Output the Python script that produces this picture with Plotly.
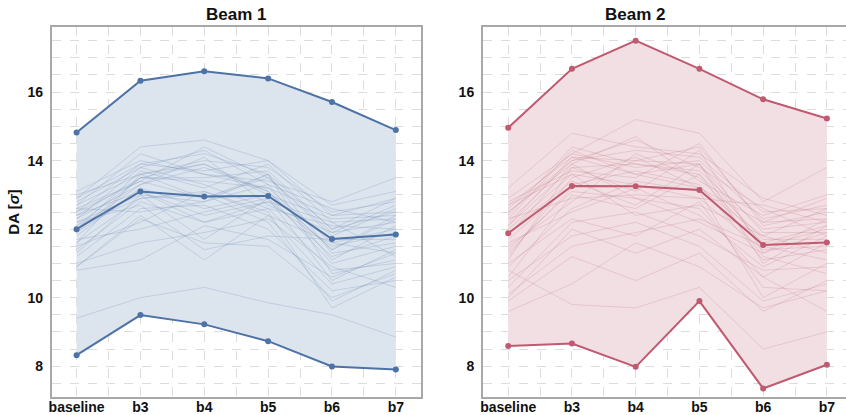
import plotly.graph_objects as go

categories = ["baseline", "b3", "b4", "b5", "b6", "b7"]
y_ticks = [8, 10, 12, 14, 16]

b1_max = [14.82, 16.33, 16.61, 16.40, 15.71, 14.89]
b1_mean = [12.00, 13.10, 12.95, 12.97, 11.71, 11.84]
b1_min = [8.32, 9.49, 9.22, 8.73, 7.99, 7.90]

b2_max = [14.96, 16.68, 17.50, 16.68, 15.79, 15.23]
b2_mean = [11.88, 13.26, 13.25, 13.14, 11.54, 11.61]
b2_min = [8.59, 8.66, 7.98, 9.90, 7.35, 8.04]

b1_seeds = [
    [12.9, 14.4, 14.6, 14.0, 12.4, 12.9],
    [12.5, 13.9, 14.2, 13.6, 12.0, 12.5],
    [12.1, 13.5, 13.4, 13.2, 11.6, 12.0],
    [11.8, 13.2, 12.6, 13.0, 11.0, 11.5],
    [12.7, 13.6, 14.0, 13.8, 12.5, 12.8],
    [11.4, 12.8, 12.2, 12.6, 10.8, 11.0],
    [13.1, 14.0, 13.6, 13.4, 12.8, 13.5],
    [12.3, 13.3, 13.8, 13.1, 11.4, 12.3],
    [10.9, 12.4, 11.1, 12.4, 10.4, 10.9],
    [12.0, 13.7, 13.2, 13.9, 12.2, 11.2],
    [11.6, 12.9, 13.0, 12.2, 9.9, 10.8],
    [9.4, 10.0, 10.3, 9.85, 9.5, 8.85],
    [12.6, 13.4, 12.9, 13.5, 11.8, 12.6],
    [12.2, 13.0, 11.7, 12.9, 11.2, 11.8],
    [11.2, 12.6, 12.7, 12.0, 10.2, 10.5],
    [12.8, 13.8, 14.3, 13.3, 12.6, 12.2],
    [10.8, 11.1, 12.1, 11.7, 10.6, 11.3],
    [12.4, 13.5, 13.5, 13.7, 12.0, 12.9],
    [11.9, 13.1, 12.4, 12.8, 11.5, 11.9],
    [13.0, 13.6, 13.9, 13.0, 12.3, 12.4],
    [11.5, 12.2, 13.1, 12.5, 9.7, 10.6],
    [12.0, 13.3, 14.1, 12.7, 11.9, 12.7],
    [12.6, 12.5, 12.8, 13.6, 11.3, 11.6],
    [11.0, 11.6, 11.9, 12.3, 10.9, 10.3],
    [12.3, 13.8, 13.3, 12.6, 12.1, 12.0],
    [11.7, 12.0, 12.5, 12.9, 10.5, 11.4],
    [12.9, 13.9, 13.7, 14.0, 12.7, 13.1],
    [12.2, 12.7, 11.4, 11.8, 11.7, 11.7],
    [11.3, 13.0, 12.8, 13.3, 11.1, 12.1],
    [12.5, 13.4, 14.4, 13.5, 11.9, 12.2],
    [10.9, 12.3, 11.6, 11.5, 10.0, 10.7],
    [12.7, 14.2, 13.6, 13.2, 12.4, 12.5],
    [12.1, 12.9, 13.1, 12.4, 11.6, 11.3],
    [11.6, 13.6, 12.9, 13.6, 10.7, 11.1],
    [12.4, 13.1, 12.2, 12.8, 12.2, 12.3],
    [11.9, 13.5, 13.9, 13.1, 11.4, 12.4],
]

b2_seeds = [
    [12.9, 14.2, 15.2, 14.8, 12.8, 13.8],
    [12.5, 14.0, 14.3, 14.1, 12.5, 12.6],
    [12.1, 13.8, 13.9, 13.7, 12.0, 12.2],
    [11.2, 13.5, 14.1, 13.2, 11.8, 11.3],
    [13.2, 14.8, 14.4, 14.2, 12.9, 12.4],
    [10.6, 13.0, 12.6, 13.6, 11.2, 10.7],
    [12.3, 14.3, 13.6, 13.9, 11.9, 11.9],
    [9.6, 10.4, 11.6, 10.9, 9.7, 10.2],
    [11.8, 13.9, 12.9, 12.6, 10.6, 11.6],
    [10.1, 11.5, 11.9, 12.3, 11.5, 12.0],
    [12.7, 14.1, 14.0, 14.4, 12.2, 12.9],
    [10.8, 9.8, 9.7, 10.3, 8.5, 9.0],
    [12.0, 13.6, 13.3, 12.9, 11.4, 11.5],
    [11.5, 12.8, 14.2, 13.5, 11.6, 12.1],
    [10.3, 12.2, 12.5, 11.8, 10.8, 10.9],
    [12.6, 14.2, 13.8, 14.0, 12.3, 12.7],
    [9.9, 11.2, 10.5, 11.3, 9.6, 10.5],
    [11.7, 13.3, 13.7, 13.3, 11.1, 11.4],
    [12.2, 14.0, 14.6, 13.8, 12.6, 11.8],
    [11.0, 12.3, 11.8, 12.8, 10.3, 10.2],
    [12.8, 13.7, 13.5, 14.5, 12.1, 12.5],
    [11.4, 13.1, 12.9, 12.2, 11.3, 12.3],
    [10.9, 12.6, 13.4, 13.1, 10.0, 11.0],
    [12.4, 14.4, 13.9, 13.6, 11.7, 11.7],
    [11.9, 13.4, 12.7, 13.9, 11.0, 12.1],
    [10.5, 11.8, 12.2, 11.5, 9.9, 10.4],
    [12.5, 13.9, 14.7, 13.4, 12.4, 13.0],
    [11.6, 12.5, 13.2, 12.4, 10.9, 11.8],
    [10.0, 12.0, 11.3, 12.0, 10.6, 9.6],
    [12.1, 14.1, 13.6, 13.2, 12.2, 12.3],
    [11.3, 13.2, 14.0, 13.9, 11.5, 11.1],
    [12.7, 13.6, 12.4, 12.7, 11.8, 12.6],
    [11.1, 13.8, 13.1, 14.3, 11.3, 11.9],
    [12.3, 12.9, 13.0, 12.9, 12.7, 12.2],
]

x = list(range(len(categories)))

fig = go.Figure()

beams = [
    dict(seeds=b1_seeds, mx=b1_max, mn=b1_min, mean=b1_mean, xa="x", ya="y",
         line="#4d72a6", fill="#dce4ee", thin="rgba(105,135,175,0.3)"),
    dict(seeds=b2_seeds, mx=b2_max, mn=b2_min, mean=b2_mean, xa="x2", ya="y2",
         line="#c05a70", fill="#f2dfe3", thin="rgba(185,105,125,0.27)"),
]

for b in beams:
    fig.add_trace(go.Scatter(x=x, y=b["mn"], mode="lines", line=dict(width=0, color=b["line"]),
                             xaxis=b["xa"], yaxis=b["ya"], showlegend=False, hoverinfo="skip"))
    fig.add_trace(go.Scatter(x=x, y=b["mx"], mode="lines", line=dict(width=0, color=b["line"]),
                             fill="tonexty", fillcolor=b["fill"],
                             xaxis=b["xa"], yaxis=b["ya"], showlegend=False, hoverinfo="skip"))
    for s in b["seeds"]:
        fig.add_trace(go.Scatter(x=x, y=s, mode="lines", line=dict(width=0.8, color=b["thin"]),
                                 xaxis=b["xa"], yaxis=b["ya"], showlegend=False, hoverinfo="skip"))
    for arr in (b["mx"], b["mean"], b["mn"]):
        fig.add_trace(go.Scatter(x=x, y=arr, mode="lines+markers",
                                 line=dict(width=2, color=b["line"]),
                                 marker=dict(size=6, color=b["line"]),
                                 xaxis=b["xa"], yaxis=b["ya"], showlegend=False))

font_family = "Liberation Sans, Arial, sans-serif"
grid_col = "#dcdcdc"
frame_col = "#a8a8a8"

xcommon = dict(tickmode="array", tickvals=x, ticktext=categories, ticks="",
               showgrid=True, gridcolor=grid_col, griddash="dash", gridwidth=1,
               minor=dict(tickmode="linear", tick0=0.5, dtick=1, showgrid=True,
                          gridcolor=grid_col, griddash="dash", gridwidth=1),
               showline=True, linecolor=frame_col, linewidth=1.5, mirror=True,
               zeroline=False, automargin=False, ticklabelstandoff=-4,
               tickfont=dict(family=font_family, size=14, color="#111", weight="bold"))
ycommon = dict(tickmode="array", tickvals=y_ticks, ticks="", range=[7.1, 17.9],
               showgrid=True, gridcolor=grid_col, griddash="dash", gridwidth=1,
               minor=dict(tickmode="linear", tick0=0, dtick=0.5, showgrid=True,
                          gridcolor=grid_col, griddash="dash", gridwidth=1),
               showline=True, linecolor=frame_col, linewidth=1.5, mirror=True,
               zeroline=False, automargin=False, ticklabelstandoff=4,
               tickfont=dict(family=font_family, size=14, color="#111", weight="bold"))

fig.update_layout(
    width=846, height=415,
    margin=dict(l=0, r=0, t=27, b=18),
    paper_bgcolor="white", plot_bgcolor="white",
    xaxis=dict(domain=[0.0611, 0.4973], range=[-0.39, 5.39], **xcommon),
    xaxis2=dict(domain=[0.5706, 1.0], range=[-0.4, 5.3], anchor="y2", **xcommon),
    yaxis=dict(domain=[0, 1], anchor="x",
               title=dict(text="<b>DA [<i>σ</i>]</b>", standoff=4,
                          font=dict(family=font_family, size=15, color="#111", weight="bold")),
               **ycommon),
    yaxis2=dict(domain=[0, 1], anchor="x2", **ycommon),
    annotations=[
        dict(text="<b>Beam 1</b>", x=0.5, xref="x domain", y=1.0, yref="y domain",
             yanchor="bottom", yshift=1, showarrow=False,
             font=dict(family=font_family, size=17, color="#111")),
        dict(text="<b>Beam 2</b>", x=(508.3 + 826.3) / 2 / 846, xref="paper", y=1.0, yref="paper",
             yanchor="bottom", yshift=1, showarrow=False,
             font=dict(family=font_family, size=17, color="#111")),
    ],
)

fig.write_html("out.html")
